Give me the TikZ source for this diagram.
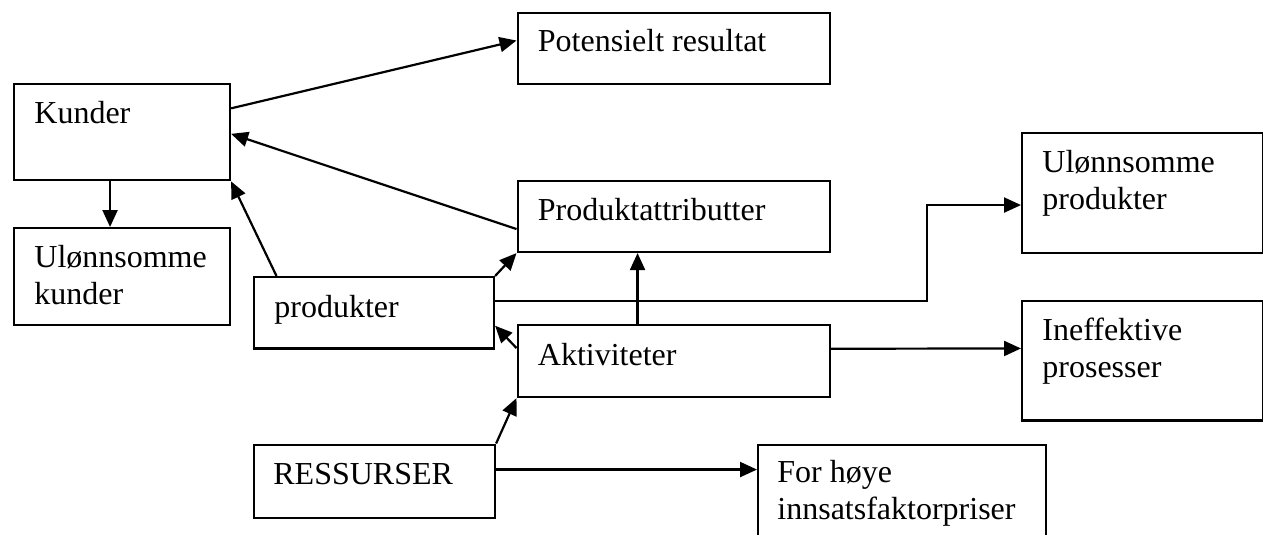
\documentclass[tikz,border=0pt]{standalone}
\usepackage{fontspec}
\setmainfont{Liberation Serif}
\usetikzlibrary{arrows.meta,calc}
\begin{document}
\begin{tikzpicture}[x=0.5pt,y=-0.5pt,
  box/.style={draw,line width=1.05pt,rectangle,inner sep=0pt,anchor=north west},
  lbl/.style={anchor=base west,inner sep=0pt,font=\fontsize{16}{18.4}\selectfont,align=left},
  link/.style={line width=1.1pt,-{Triangle[length=8.5pt,width=7.5pt]}},
]
\useasboundingbox (0,0) rectangle (1263,535);
\clip (0,0) rectangle (1263,535);

% boxes (top-left corner, size in pt)
\node[box,minimum width=156pt,minimum height=35.8pt]  (pot)   at (516.5,11.7) {};
\node[box,minimum width=108pt,minimum height=48pt]    (kun)   at (13,83.3)    {};
\node[box,minimum width=108pt,minimum height=48.5pt]  (ukun)  at (13,227)     {};
\node[box,minimum width=156pt,minimum height=35.5pt]  (pattr) at (516.5,180)  {};
\node[box,minimum width=120.3pt,minimum height=60pt]  (uprod) at (1021,132)   {};
\node[box,minimum width=120pt,minimum height=35.7pt]  (prod)  at (253,276)    {};
\node[box,minimum width=156pt,minimum height=36pt]    (akt)   at (516.5,324)  {};
\node[box,minimum width=120.3pt,minimum height=59.7pt] (ineff) at (1021,300)  {};
\node[box,minimum width=120.5pt,minimum height=36.5pt] (ress) at (253,443.5)  {};
\node[box,minimum width=144pt,minimum height=60pt]    (hoye)  at (757,444)    {};

% texts (multi-line labels are placed by the baseline of their last line)
\node[lbl] (potT)   at ($(pot.north west)+(21,40)$)   {Potensielt resultat};
\node[lbl] (kunT)   at ($(kun.north west)+(21,40.5)$) {Kunder};
\node[lbl] (ukunT)  at ($(ukun.north west)+(21,77.5)$) {Ulønnsomme\\kunder};
\node[lbl] (pattrT) at ($(pattr.north west)+(21,40)$) {Produktattributter};
\node[lbl] (uprodT) at ($(uprod.north west)+(21,77)$) {Ulønnsomme\\produkter};
\node[lbl] (prodT)  at ($(prod.north west)+(21,41)$)  {produkter};
\node[lbl] (aktT)   at ($(akt.north west)+(21,41)$)   {Aktiviteter};
\node[lbl] (ineffT) at ($(ineff.north west)+(21,77)$) {Ineffektive\\prosesser};
\node[lbl] (ressT)  at ($(ress.north west)+(20,41)$)  {RESSURSER};
\node[lbl] (hoyeT)  at ($(hoye.north west)+(20,75.5)$) {For høye\\innsatsfaktorpriser};

% connectors
\draw[link] ($(kun.east)+(0,-24)$) -- ($(pot.west)+(0,-8)$);
\draw[link] ($(pattr.west)+(0,12.5)$) -- ($(kun.east)+(0,1.5)$);
\draw[link] ($(kun.south)+(-12,0)$) -- ($(ukun.north)+(-12,0)$);
\draw[link] ($(prod.north west)+(23.5,0)$) -- (kun.south east);
\draw[link] (prod.north east) -- (pattr.south west);
\draw[link] ($(prod.east)+(0,-12)$) -- ++(432,0) |- ($(uprod.west)+(0,12)$);
\draw[link] ($(akt.north)+(-36,0)$) -- ($(pattr.south)+(-36,0)$);
\draw[link] ($(akt.west)+(0,-13)$) -- ($(prod.east)+(0,13)$);
\draw[link] ($(akt.east)+(0,-12.3)$) -- ($(ineff.west)+(0,-12.3)$);
\draw[link] (ress.north east) -- (akt.south west);
\draw[link] ($(ress.east)+(0,-11.5)$) coordinate (r1) -- (r1 -| hoye.west);
\end{tikzpicture}
\end{document}
